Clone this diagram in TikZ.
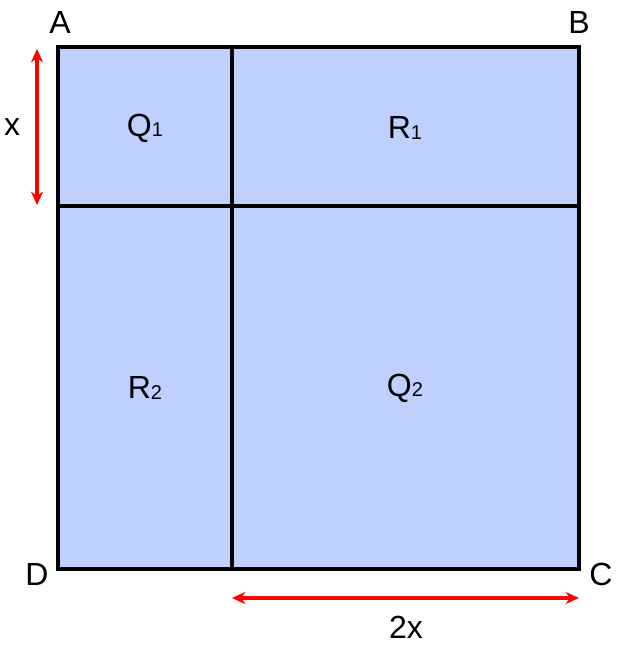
\documentclass[tikz,border=0pt]{standalone}
\usepackage{fontspec}
\setmainfont{Liberation Sans}
\usetikzlibrary{arrows.meta}
\definecolor{region}{HTML}{BFD0FF}
\newcommand{\sub}[1]{\raisebox{-0.05ex}{\fontsize{15}{18}\selectfont #1}}
\begin{document}
\begin{tikzpicture}[
            x=0.75pt, y=-0.75pt,
            lbl/.style={font=\fontsize{24}{28}\selectfont},
            wall/.style={line width=2.3pt},
            dim/.style={red, line width=2.3pt, {Stealth[length=10pt,width=9pt]}-{Stealth[length=10pt,width=9pt]}},
            ]
            \useasboundingbox (0,0) rectangle (618,657);
            \coordinate (A) at (58,47);
            \coordinate (B) at (579,47);
            \coordinate (C) at (579,569);
            \coordinate (D) at (58,569);
            \coordinate (T) at (232,47);
            \coordinate (S) at (232,569);
            \coordinate (L) at (58,206);
            \coordinate (R) at (579,206);
            \fill[region] (A) rectangle (C);
            \draw[wall] (A) rectangle (C);
            \draw[wall] (T) -- (S);
            \draw[wall] (L) -- (R);
            % corner letters
            \node (nA) [lbl] at (60,22) {A};
            \node (nB) [lbl] at (579,22) {B};
            \node (nC) [lbl] at (601,574) {C};
            \node (nD) [lbl] at (37,574) {D};
            % regions
            \node (q1) [lbl] at (145,128) {Q\sub{1}};
            \node (r1) [lbl] at (405,128) {R\sub{1}};
            \node (r2) [lbl] at (145,388) {R\sub{2}};
            \node (q2) [lbl] at (405,388) {Q\sub{2}};
            % dimensions
            \coordinate (xa) at (37,49);
            \coordinate (xb) at (37,205);
            \coordinate (ya) at (232,598);
            \coordinate (yb) at (579,598);
            \draw[dim] (xa) -- (xb);
            \draw[dim] (ya) -- (yb);
            \node (nx) [lbl] at (12,127) {x};
            \node (n2x) [lbl] at (406,627) {2x};
\end{tikzpicture}
\end{document}
